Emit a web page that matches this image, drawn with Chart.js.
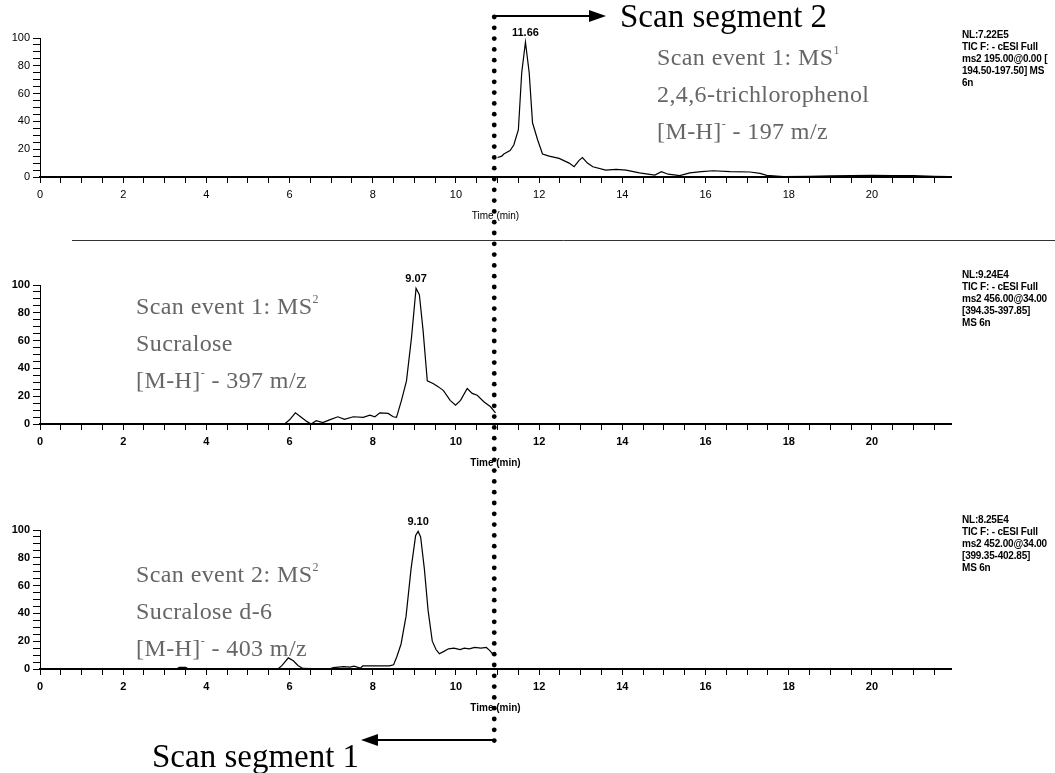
<!DOCTYPE html>
<html>
<head>
<meta charset="utf-8">
<script src="https://cdn.jsdelivr.net/npm/chart.js@4.4.1/dist/chart.umd.min.js"></script>
<style>
  body { margin: 0; background: #fff; }
  #page { position: relative; width: 1055px; height: 773px; overflow: hidden; }
  canvas { position: absolute; left: 0; }
  .info { position: absolute; left: 962px; font: bold 10px/12px "Liberation Sans", Arial, sans-serif; color: #000; letter-spacing: -0.2px; white-space: nowrap; }
  .note { position: absolute; font: 24px/37px "Liberation Serif", "Times New Roman", serif; color: #666; letter-spacing: 0.4px; white-space: nowrap; }
  .note sup { font-size: 12px; line-height: 0; vertical-align: 11px; }
  .seg { position: absolute; font: 33px/33px "Liberation Serif", "Times New Roman", serif; color: #000; white-space: nowrap; }
</style>
</head>
<body>
<div id="page">
  <canvas id="c1"></canvas>
  <canvas id="c2"></canvas>
  <canvas id="c3"></canvas>
  <canvas id="overlay" width="1055" height="773" style="top:0"></canvas>

  <div class="seg" style="left:620px; top:0px">Scan segment 2</div>
  <div class="seg" style="left:152px; top:740px">Scan segment 1</div>

  <div class="note" style="left:657px; top:39px">Scan event 1: MS<sup>1</sup><br>2,4,6-trichlorophenol<br>[M-H]<sup>-</sup> - 197 m/z</div>
  <div class="note" style="left:136px; top:288px">Scan event 1: MS<sup>2</sup><br>Sucralose<br>[M-H]<sup>-</sup> - 397 m/z</div>
  <div class="note" style="left:136px; top:556px">Scan event 2: MS<sup>2</sup><br>Sucralose d-6<br>[M-H]<sup>-</sup> - 403 m/z</div>

  <div class="info" style="top:29px">NL:7.22E5<br>TIC F: - cESI Full<br>ms2 195.00@0.00 [<br>194.50-197.50] MS<br>6n</div>
  <div class="info" style="top:269px">NL:9.24E4<br>TIC F: - cESI Full<br>ms2 456.00@34.00<br>[394.35-397.85]<br>MS 6n</div>
  <div class="info" style="top:514px">NL:8.25E4<br>TIC F: - cESI Full<br>ms2 452.00@34.00<br>[399.35-402.85]<br>MS 6n</div>
</div>

<script>
// retention time (min) and relative abundance (%)
const timeTcp = [0, 10.9, 10.95, 11.0, 11.1, 11.15, 11.3, 11.39, 11.5, 11.58, 11.67, 11.76, 11.84, 11.96, 12.08, 12.24, 12.48, 12.72, 12.84, 12.96, 13.04, 13.16, 13.29, 13.6, 13.85, 14.09, 14.41, 14.78, 14.94, 15.1, 15.38, 15.62, 15.9, 16.18, 16.59, 17.07, 17.31, 17.47, 17.87, 18.5, 19.0, 19.5, 20.0, 20.5, 21.0, 21.5, 21.85];
const valueTcp = [0, 0, null, 14, 15, 16.5, 19, 23, 34, 75, 97, 75, 39, 27, 16.5, 15, 13.4, 10, 7.4, 12, 14, 10, 7.4, 5, 5.5, 5, 3, 1.4, 3.8, 2, 1, 3, 3.8, 4.5, 3.8, 3.6, 2.6, 1.2, 0.3, 0.4, 0.8, 1, 1.2, 1, 1, 0.5, 0.3];

const timeSuc = [0, 5.88, 6.0, 6.14, 6.28, 6.42, 6.52, 6.64, 6.8, 6.96, 7.16, 7.32, 7.53, 7.77, 7.93, 8.05, 8.17, 8.37, 8.49, 8.57, 8.69, 8.81, 8.93, 9.04, 9.12, 9.21, 9.31, 9.46, 9.58, 9.7, 9.86, 9.99, 10.11, 10.27, 10.39, 10.51, 10.67, 10.83, 10.95];
const valueSuc = [0, 0, 3, 8, 4.8, 1.7, 0, 2.4, 1, 3, 5.2, 3.3, 5.2, 4.8, 6.4, 5.2, 8, 7.6, 5.2, 4.8, 17, 31, 62, 97.6, 93, 67, 31, 29, 26.7, 24, 17, 13.6, 17, 25.5, 22, 20.7, 16, 12.4, 8];

const timeSucD6 = [0, 3.28, 3.35, 3.5, 3.57, 5.72, 5.82, 5.97, 6.09, 6.2, 6.32, 6.95, 7.05, 7.3, 7.45, 7.55, 7.7, 7.76, 8.4, 8.5, 8.58, 8.68, 8.8, 8.92, 9.03, 9.09, 9.15, 9.24, 9.33, 9.43, 9.52, 9.6, 9.7, 9.82, 9.95, 10.1, 10.2, 10.32, 10.45, 10.6, 10.73, 10.82, 10.9];
const valueSucD6 = [0, 0, 1.2, 1.2, 0, 0, 2.6, 8, 5.9, 2.5, 0.4, 0, 1, 1.7, 1.3, 2, 0.6, 2.2, 2.2, 3, 9, 18, 38, 72, 96, 99, 95, 72, 42, 20, 14, 11, 12.5, 14.5, 15, 14, 15, 14.5, 15.5, 15, 15.5, 13, 10];

const peakLabels = ["11.66", "9.07", "9.10"];
const SEGMENT_SPLIT = 10.92; // min, switch from segment 1 to segment 2

Chart.defaults.font.family = '"Liberation Sans", Arial, sans-serif';
Chart.defaults.color = "#000";

// write the retention time above the highest point
const peakLabel = {
  id: "peakLabel",
  afterDatasetsDraw(chart, args, opts) {
    const data = chart.data.datasets[0].data;
    let best = 0;
    data.forEach((d, i) => { if (d.y !== null && d.y > data[best].y) best = i; });
    const pt = chart.getDatasetMeta(0).data[best];
    const ctx = chart.ctx;
    ctx.save();
    ctx.font = opts.font;
    ctx.fillStyle = "#000";
    ctx.textAlign = "center";
    ctx.textBaseline = "bottom";
    ctx.fillText(opts.text, pt.x, pt.y - 4);
    ctx.restore();
  }
};

function makePanel(id, top, height, padTop, padBottom, times, values, label, bold) {
  const canvas = document.getElementById(id);
  canvas.width = 1055;
  canvas.height = height;
  canvas.style.top = top + "px";
  const tickFont = bold ? { size: 11, weight: "bold" } : { size: 11 };
  return new Chart(canvas, {
    type: "line",
    data: {
      datasets: [{
        data: times.map((t, i) => ({ x: t, y: values[i] })),
        borderColor: "#000",
        borderWidth: 1.2,
        pointRadius: 0,
        tension: 0,
        spanGaps: false
      }]
    },
    options: {
      responsive: false,
      animation: false,
      layout: { padding: { top: padTop, bottom: padBottom, left: 0, right: 104 } },
      plugins: {
        legend: { display: false },
        tooltip: { enabled: false },
        peakLabel: { text: label, font: "bold 11px 'Liberation Sans'" }
      },
      scales: {
        x: {
          type: "linear",
          min: 0,
          max: 21.9,
          afterFit: (s) => { s.height = 45; },
          border: { color: "#000", width: 2 },
          grid: { drawOnChartArea: false, color: "#000", tickLength: 6 },
          ticks: {
            stepSize: 0.5,
            includeBounds: false,
            autoSkip: false,
            maxRotation: 0,
            minRotation: 0,
            padding: 5,
            font: tickFont,
            callback: (v) => (v % 2 === 0 && v <= 20 ? v : "")
          },
          title: {
            display: true,
            text: "Time (min)",
            padding: 0,
            font: bold ? { size: 10, weight: "bold" } : { size: 10 }
          }
        },
        y: {
          min: 0,
          max: 100,
          afterFit: (s) => { s.width = 40; },
          border: { color: "#000", width: 1 },
          grid: { drawOnChartArea: false, color: "#000", tickLength: 7 },
          ticks: {
            stepSize: 5,
            autoSkip: false,
            padding: 3,
            font: tickFont,
            callback: (v) => (v % 20 === 0 ? v : "")
          }
        }
      }
    },
    plugins: [peakLabel]
  });
}

const charts = [
  makePanel("c1", 0, 240, 38, 18, timeTcp, valueTcp, peakLabels[0], false),
  makePanel("c2", 245, 245, 40, 21, timeSuc, valueSuc, peakLabels[1], true),
  makePanel("c3", 490, 245, 40, 21, timeSucD6, valueSucD6, peakLabels[2], true)
];

// separator, dotted segment boundary and the two arrows
const g = document.getElementById("overlay").getContext("2d");
g.strokeStyle = "#333";
g.lineWidth = 1;
g.beginPath();
g.moveTo(72, 240.5);
g.lineTo(1055, 240.5);
g.stroke();

const splitX = charts[0].scales.x.getPixelForValue(SEGMENT_SPLIT);
g.fillStyle = "#000";
g.strokeStyle = "#000";
for (let y = 17; y <= 741; y += 10.8) {
  g.beginPath();
  g.arc(splitX, y, 2.4, 0, Math.PI * 2);
  g.fill();
}

function arrow(x0, y, x1) {
  const dir = Math.sign(x1 - x0);
  g.lineWidth = 2;
  g.beginPath();
  g.moveTo(x0, y);
  g.lineTo(x1 - dir * 14, y);
  g.stroke();
  g.beginPath();
  g.moveTo(x1, y);
  g.lineTo(x1 - dir * 17, y - 6);
  g.lineTo(x1 - dir * 17, y + 6);
  g.closePath();
  g.fill();
}
arrow(splitX, 16, 606);
arrow(splitX, 740, 361);
</script>
</body>
</html>
